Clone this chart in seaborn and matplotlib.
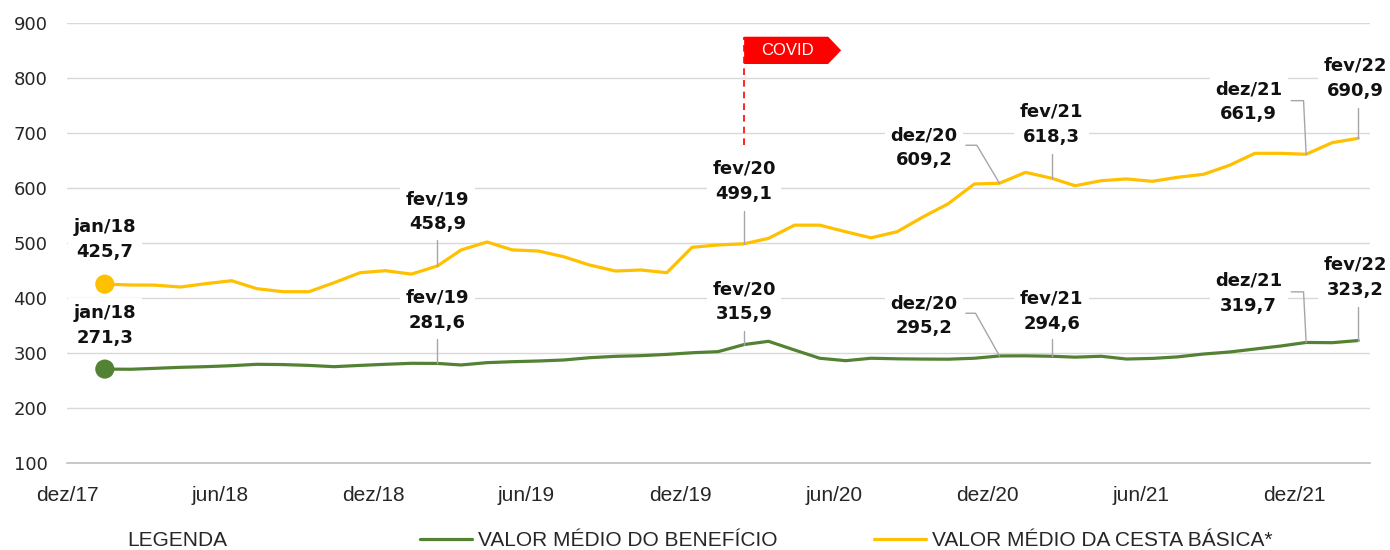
import matplotlib
matplotlib.use("Agg")
import matplotlib.pyplot as plt
import matplotlib.dates as mdates
from matplotlib import font_manager
from matplotlib.lines import Line2D
from matplotlib.patches import Polygon
from matplotlib.transforms import IdentityTransform
import seaborn as sns
import pandas as pd

# -----------------------------
# DATA (monthly, jan/18 .. fev/22)
# -----------------------------
months = pd.date_range("2018-01-01", "2022-02-01", freq="MS") + pd.Timedelta(days=14)

cesta = [425.7, 424.2, 424.0, 420.5, 426.6, 432.0, 417.5, 412.0, 412.0, 428.4,
         446.6, 450.2, 444.0, 458.9, 487.8, 502.4, 488.0, 486.0, 475.7, 460.5,
         449.6, 451.5, 446.6, 492.7, 497.0, 499.1, 509.0, 533.0, 533.0, 521.0,
         510.0, 521.0, 548.0, 572.0, 607.8, 609.2, 629.0, 618.3, 604.7, 613.8,
         617.0, 612.7, 620.0, 625.5, 642.0, 663.6, 663.6, 661.9, 683.0, 690.9]

beneficio = [271.3, 271.0, 272.6, 274.5, 275.7, 277.5, 280.0, 279.5, 278.0, 275.7,
             278.0, 280.0, 281.8, 281.6, 278.8, 283.0, 284.7, 286.0, 287.8, 292.0,
             294.5, 295.7, 298.0, 301.0, 303.0, 315.9, 321.8, 306.0, 291.0, 286.6,
             291.0, 290.0, 289.5, 289.3, 291.0, 295.2, 295.4, 294.6, 293.0, 294.6,
             289.6, 290.7, 293.5, 298.7, 302.4, 307.8, 313.3, 319.7, 319.3, 323.2]

series_names = ["VALOR MÉDIO DO BENEFÍCIO", "VALOR MÉDIO DA CESTA BÁSICA*"]
colors = {"VALOR MÉDIO DO BENEFÍCIO": "#548235",
          "VALOR MÉDIO DA CESTA BÁSICA*": "#FFC000"}

# months that get a label on the chart
highlight_idx = [0, 13, 25, 35, 37, 47, 49]
covid_idx = 25

y_ticks = list(range(100, 1000, 100))
x_ticks = pd.date_range("2017-12-01", "2021-12-01", freq="6MS")

mes_pt = ["jan", "fev", "mar", "abr", "mai", "jun",
          "jul", "ago", "set", "out", "nov", "dez"]


def fmt_mes(d):
    return f"{mes_pt[d.month - 1]}/{d.strftime('%y')}"


# -----------------------------
# STYLE
# -----------------------------
sns.set_style("white")


def has_font(name):
    try:
        font_manager.findfont(name, fallback_to_default=False)
        return True
    except Exception:
        return False


NARROW = "Liberation Sans Narrow" if has_font("Liberation Sans Narrow") else "Liberation Sans"
plt.rcParams["font.family"] = ["DejaVu Sans"]

W, H = 1390, 550
fig = plt.figure(figsize=(W / 100, H / 100), dpi=100)
ax = fig.add_axes([67 / W, 1 - 463.3 / H, (1370 - 67) / W, (463.3 - 23.3) / H])

df = pd.DataFrame({
    "data": list(months) * 2,
    "valor": beneficio + cesta,
    "serie": [series_names[0]] * len(months) + [series_names[1]] * len(months),
})

sns.lineplot(data=df, x="data", y="valor", hue="serie", palette=colors,
             linewidth=2.3, legend=False, ax=ax, zorder=3)

first = df.groupby("serie", as_index=False).first()
sns.scatterplot(data=first, x="data", y="valor", hue="serie", palette=colors,
                s=190, edgecolor="none", legend=False, ax=ax, zorder=4)

ax.set_xlim(pd.Timestamp("2017-12-01"), pd.Timestamp("2022-03-01"))
ax.set_ylim(100, 900)
ax.set_yticks(y_ticks)
ax.set_xticks(x_ticks)
ax.set_xticklabels([fmt_mes(d) for d in x_ticks], family=[NARROW, "DejaVu Sans"],
                   fontsize=15, color="#262626")
ax.tick_params(axis="y", length=0, pad=14, labelsize=13, labelcolor="#262626")
ax.tick_params(axis="x", direction="inout", length=10, width=1, color="#bfbfbf", pad=11)
ax.set_xlabel("")
ax.set_ylabel("")
ax.grid(axis="y", color="#d9d9d9", linewidth=1)
for s in ["top", "right", "left"]:
    ax.spines[s].set_visible(False)
ax.spines["bottom"].set_color("#bfbfbf")
ax.spines["bottom"].set_linewidth(1.2)

# -----------------------------
# LABELS WITH LEADER LINES (pixel offsets from the point)
# -----------------------------
text_off = {
    series_names[1]: {0: (0, 44.6), 13: (0, 54.3), 25: (0, 62.3), 35: (-75.7, 35.5),
                      37: (0, 54), 47: (-57.6, 52.3), 49: (-3, 60)},
    series_names[0]: {0: (0, 44), 13: (0, 53), 25: (0, 43), 35: (-75.7, 40.2),
                      37: (0, 45.2), 47: (-57.6, 49), 49: (-3, 63.2)},
}
leader = {
    series_names[1]: {13: [(0, 26)], 25: [(0, 33)], 35: [(-22.7, 38), (-33.7, 38)],
                      37: [(0, 24)], 47: [(-2.6, 53.6), (-14.9, 53.6)], 49: [(0, 30)]},
    series_names[0]: {13: [(0, 24.7)], 25: [(0, 13.3)], 35: [(-24, 42.7), (-33.7, 42.7)],
                      37: [(0, 17)], 47: [(-2.6, 50.6), (-14.9, 50.6)], 49: [(0, 34)]},
}
values = {series_names[0]: beneficio, series_names[1]: cesta}

for name in series_names:
    vals = values[name]
    for i in highlight_idx:
        xd = mdates.date2num(months[i])
        label = f"{fmt_mes(months[i])}\n{vals[i]:.1f}".replace(".", ",")
        dx, dy = text_off[name][i]
        ax.annotate(label, xy=(xd, vals[i]), xytext=(dx, dy), textcoords="offset pixels",
                    ha="center", va="center", fontsize=13, fontweight="bold",
                    color="#111111", linespacing=1.5, zorder=5,
                    bbox=dict(boxstyle="square,pad=0.3", fc="white", ec="none"))
        if i in leader[name]:
            px, py = ax.transData.transform((xd, vals[i]))
            pts = [(px, py)] + [(px + a, py + b) for a, b in leader[name][i]]
            fig.add_artist(Line2D([p[0] for p in pts], [p[1] for p in pts],
                                  transform=IdentityTransform(), color="#a6a6a6",
                                  lw=1, zorder=6))

# -----------------------------
# COVID FLAG
# -----------------------------
cx, _ = ax.transData.transform((mdates.date2num(months[covid_idx]), 500))
_, y_top = ax.transData.transform((0, 875.6))
_, y_bot = ax.transData.transform((0, 826))
_, y_dash = ax.transData.transform((0, 679))
fig.add_artist(Line2D([cx, cx], [y_dash, y_top], transform=IdentityTransform(),
                      color="#ff0000", lw=1.2, dashes=(4, 3), zorder=6))
flag = Polygon([(cx, y_bot), (cx, y_top), (cx + 84, y_top), (cx + 97, (y_top + y_bot) / 2),
                (cx + 84, y_bot)], closed=True, transform=IdentityTransform(),
               fc="#ff0000", ec="none", zorder=6)
fig.add_artist(flag)
fig.text((cx + 43) / W, (y_top + y_bot) / 2 / H, "COVID", color="white", ha="center",
         va="center", fontsize=12, family=[NARROW, "DejaVu Sans"], zorder=7)

# -----------------------------
# LEGEND
# -----------------------------
fig.text(177 / W, 1 - 541 / H, "LEGENDA", ha="center", va="center", fontsize=15,
         family=[NARROW, "DejaVu Sans"], color="#262626")
handles = [Line2D([], [], color=colors[n], lw=2.3) for n in series_names]
fig.legend(handles, series_names, loc="center left", bbox_to_anchor=(420 / W, 1 - 541 / H),
           ncol=2, frameon=False, borderpad=0, borderaxespad=0, handlelength=2.5,
           handletextpad=0.3, columnspacing=4.6,
           prop={"family": [NARROW, "DejaVu Sans"], "size": 15}, labelcolor="#262626")

fig.savefig("out.png", dpi=100)
